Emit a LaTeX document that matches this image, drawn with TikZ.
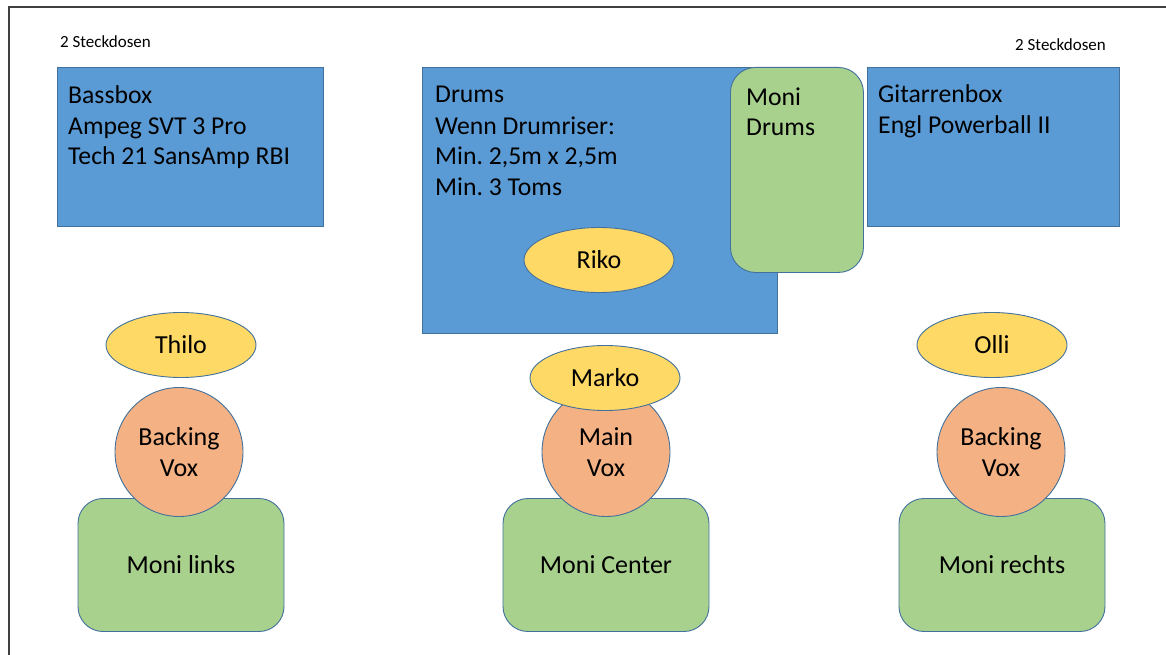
\documentclass[tikz,border=0pt]{standalone}
\usepackage{fontspec}
\setmainfont{Carlito}
\frenchspacing
\usetikzlibrary{shapes.geometric}
\definecolor{boxblue}{HTML}{5B9BD5}
\definecolor{edgeblue}{HTML}{41719C}
\definecolor{moniGreen}{HTML}{A9D18E}
\definecolor{voxOrange}{HTML}{F4B183}
\definecolor{nameYellow}{HTML}{FFD966}
\definecolor{frameGray}{HTML}{404040}
\begin{document}
\begin{tikzpicture}[x=1pt,y=-1pt,
  bluebox/.style={draw=edgeblue,fill=boxblue,line width=0.9pt,anchor=north west,inner sep=0pt},
  monibox/.style={draw=edgeblue,fill=moniGreen,line width=0.9pt,rounded corners=25pt,inner sep=0pt,
     minimum width=206pt,minimum height=133pt,font=\fontsize{26}{31}\selectfont},
  person/.style={ellipse,draw=edgeblue,fill=nameYellow,line width=0.9pt,inner sep=0pt,
     minimum width=150pt,minimum height=65pt,font=\fontsize{26}{31}\selectfont},
  voxcircle/.style={ellipse,draw=edgeblue,fill=voxOrange,line width=0.9pt,inner sep=0pt,
     minimum width=128pt,minimum height=129pt,align=center,font=\fontsize{26}{31}\selectfont},
  boxtext/.style={anchor=base west,inner sep=0pt,align=left,font=\fontsize{25.7}{31}\selectfont},
  smalltext/.style={anchor=base west,inner sep=0pt,font=\fontsize{17}{20}\selectfont}
]
\useasboundingbox (0,0) rectangle (1166,655);
% frame
\draw[frameGray,line width=1.1pt] (9,656) -- (9,7) -- (1167,7);

% texts above boxes
\node[smalltext] (steckL) at (60,48) {2 Steckdosen};
\node[smalltext] (steckR) at (1015,51) {2 Steckdosen};

% blue boxes
\node[bluebox,minimum width=266pt,minimum height=159pt] (bass) at (57,67) {};
\node[bluebox,minimum width=355pt,minimum height=266pt] (drums) at (422,67) {};
\node[bluebox,minimum width=252pt,minimum height=159pt] (gitarre) at (867,67) {};

% (base anchor = baseline of the last line)
\node[boxtext] (basstext) at (68,165) {Bassbox\\Ampeg SVT 3 Pro\\Tech 21 SansAmp RBI};
\node[boxtext] (drumstext) at (435,196) {Drums\\Wenn Drumriser:\\Min. 2,5m x 2,5m\\Min. 3 Toms};
\node[boxtext] (gitarretext) at (878,134) {Gitarrenbox\\Engl Powerball II};

% moni drums
\node[draw=edgeblue,fill=moniGreen,line width=0.9pt,rounded corners=25pt,inner sep=0pt,
      anchor=north west,minimum width=133pt,minimum height=205pt] (monidrums) at (730,67) {};
\node[boxtext,font=\fontsize{25.7}{30}\selectfont] (monidrumstext) at (746,136) {Moni\\Drums};

% persons
\node[person] (riko) at (599,260) {Riko};
\node[person] (thilo) at (181,345) {Thilo};
\node[person] (olli) at (992,345) {Olli};

% monitors
\node[monibox] (monilinks) at (181,565) {Moni links};
\node[monibox] (monicenter) at (606,565) {Moni Center};
\node[monibox] (monirechts) at (1002,565) {Moni rechts};

% vox circles
\node[voxcircle] (voxL) at (179,452) {Backing\\Vox};
\node[voxcircle] (voxC) at (606,452) {Main\\Vox};
\node[voxcircle] (voxR) at (1001,452) {Backing\\Vox};

\node[person] (marko) at (605,378) {Marko};
\end{tikzpicture}
\end{document}
